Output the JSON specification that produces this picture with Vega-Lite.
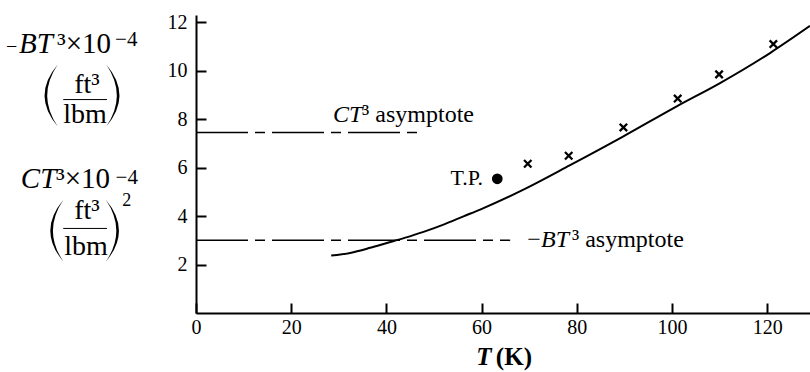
{
  "$schema": "https://vega.github.io/schema/vega-lite/v6.json",
  "width": 614,
  "height": 298,
  "autosize": {"type": "none"},
  "padding": {"left": 196, "top": 15, "right": 0, "bottom": 59},
  "background": "white",
  "config": {
    "view": {"stroke": null},
    "axis": {
      "grid": false,
      "domainColor": "black",
      "domainWidth": 2,
      "tickColor": "black",
      "tickWidth": 2,
      "tickSize": -10,
      "labelFont": "Liberation Serif",
      "labelFontSize": 20,
      "labelColor": "black",
      "title": null
    }
  },
  "datasets": {
    "curve": [
      {"T": 28.4, "v": 2.37}, {"T": 32.4, "v": 2.48}, {"T": 36.6, "v": 2.69},
      {"T": 40.1, "v": 2.89}, {"T": 43.8, "v": 3.10}, {"T": 47.8, "v": 3.35},
      {"T": 52.0, "v": 3.65}, {"T": 56.2, "v": 3.99}, {"T": 59.7, "v": 4.27},
      {"T": 68.8, "v": 5.09}, {"T": 78.6, "v": 6.10}, {"T": 89.8, "v": 7.29},
      {"T": 101.0, "v": 8.53}, {"T": 110.1, "v": 9.49}, {"T": 120.6, "v": 10.73},
      {"T": 129.0, "v": 11.85}
    ],
    "crosses": [
      {"T": 69.7, "v": 6.16}, {"T": 78.3, "v": 6.49}, {"T": 89.8, "v": 7.66},
      {"T": 101.2, "v": 8.85}, {"T": 109.9, "v": 9.85}, {"T": 121.3, "v": 11.10}
    ],
    "tp": [{"T": 63.3, "v": 5.54}],
    "asym": [
      {"name": "CT3", "T0": 0, "T1": 47, "v": 7.45},
      {"name": "-BT3", "T0": 0, "T1": 66, "v": 3.0}
    ],
    "italicText": [
      {"text": "CT", "T": 28.8, "v": 7.90},
      {"text": "BT", "T": 72.5, "v": 2.74}
    ],
    "romanText": [
      {"text": "³ asymptote", "T": 34.9, "v": 7.90},
      {"text": "−", "T": 69.6, "v": 2.74},
      {"text": "³ asymptote", "T": 79.0, "v": 2.74}
    ],
    "axisTitleItalic": [{"text": "T", "T": 58.9, "v": -2.13}],
    "axisTitleRoman": [{"text": "(K)", "T": 63.0, "v": -2.13}],
    "tpText": [{"text": "T.P.", "T": 60.3, "v": 5.30}],
    "titleItalic": [
      {"text": "BT", "T": -37.2, "v": 10.75},
      {"text": "CT", "T": -36.8, "v": 5.18}
    ],
    "titleMinus": [{"text": "−", "T": -39.9, "v": 10.75}],
    "titleRoman": [
      {"text": "³×10", "T": -29.2, "v": 10.75},
      {"text": "³×10", "T": -29.4, "v": 5.18}
    ],
    "titleSup": [
      {"text": "−4", "T": -17.0, "v": 11.04},
      {"text": "−4", "T": -16.9, "v": 5.34}
    ],
    "titleSquare": [{"text": "2", "T": -15.5, "v": 4.40}],
    "fracText": [
      {"text": "ft³", "T": -22.9, "v": 9.10},
      {"text": "lbm", "T": -23.3, "v": 7.86},
      {"text": "ft³", "T": -22.9, "v": 3.86},
      {"text": "lbm", "T": -23.1, "v": 2.41}
    ],
    "fracBars": [
      {"T0": -27.9, "T1": -18.7, "v": 8.81},
      {"T0": -27.9, "T1": -18.7, "v": 3.49}
    ],
    "leftParens": [
      {"T": -31.0, "v": 8.98},
      {"T": -29.8, "v": 3.40}
    ],
    "rightParens": [
      {"T": -16.9, "v": 8.98},
      {"T": -17.0, "v": 3.40}
    ]
  },
  "layer": [
    {
      "data": {"name": "curve"},
      "mark": {"type": "line", "color": "black", "strokeWidth": 2, "interpolate": "monotone", "clip": false},
      "encoding": {
        "x": {
          "field": "T", "type": "quantitative",
          "scale": {"domain": [0, 129], "nice": false, "zero": false},
          "axis": {
            "values": [0, 20, 40, 60, 80, 100, 120],
            "labelPadding": 14,
            "labelFlush": false,
            "encode": {"labels": {"update": {"dx": {"signal": "datum.value === 0 ? -13 : 0"}}}}
          }
        },
        "y": {
          "field": "v", "type": "quantitative",
          "scale": {"domain": [0, 12.3], "nice": false, "zero": false},
          "axis": {"values": [2, 4, 6, 8, 10, 12], "labelPadding": 19}
        }
      }
    },
    {
      "data": {"name": "asym"},
      "mark": {"type": "rule", "color": "black", "strokeWidth": 1.5, "strokeDash": [52, 7, 10, 7]},
      "encoding": {
        "x": {"field": "T0", "type": "quantitative"},
        "x2": {"field": "T1"},
        "y": {"field": "v", "type": "quantitative"}
      }
    },
    {
      "data": {"name": "crosses"},
      "mark": {"type": "point", "shape": "M-1,-1L1,1M-1,1L1,-1", "filled": false, "stroke": "black", "strokeWidth": 2.3, "size": 55, "opacity": 1},
      "encoding": {
        "x": {"field": "T", "type": "quantitative"},
        "y": {"field": "v", "type": "quantitative"}
      }
    },
    {
      "data": {"name": "tp"},
      "mark": {"type": "point", "shape": "circle", "filled": true, "color": "black", "size": 115, "opacity": 1},
      "encoding": {
        "x": {"field": "T", "type": "quantitative"},
        "y": {"field": "v", "type": "quantitative"}
      }
    },
    {
      "data": {"name": "italicText"},
      "mark": {"type": "text", "font": "Liberation Serif", "fontStyle": "italic", "fontSize": 24, "align": "left", "baseline": "alphabetic", "color": "black"},
      "encoding": {
        "x": {"field": "T", "type": "quantitative"},
        "y": {"field": "v", "type": "quantitative"},
        "text": {"field": "text"}
      }
    },
    {
      "data": {"name": "romanText"},
      "mark": {"type": "text", "font": "Liberation Serif", "fontSize": 24, "align": "left", "baseline": "alphabetic", "color": "black"},
      "encoding": {
        "x": {"field": "T", "type": "quantitative"},
        "y": {"field": "v", "type": "quantitative"},
        "text": {"field": "text"}
      }
    },
    {
      "data": {"name": "axisTitleItalic"},
      "mark": {"type": "text", "font": "Liberation Serif", "fontStyle": "italic", "fontWeight": "bold", "fontSize": 25, "align": "left", "baseline": "alphabetic", "color": "black"},
      "encoding": {
        "x": {"field": "T", "type": "quantitative"},
        "y": {"field": "v", "type": "quantitative"},
        "text": {"field": "text"}
      }
    },
    {
      "data": {"name": "axisTitleRoman"},
      "mark": {"type": "text", "font": "Liberation Serif", "fontWeight": "bold", "fontSize": 25, "align": "left", "baseline": "alphabetic", "color": "black"},
      "encoding": {
        "x": {"field": "T", "type": "quantitative"},
        "y": {"field": "v", "type": "quantitative"},
        "text": {"field": "text"}
      }
    },
    {
      "data": {"name": "tpText"},
      "mark": {"type": "text", "font": "Liberation Serif", "fontSize": 22, "align": "right", "baseline": "alphabetic", "color": "black"},
      "encoding": {
        "x": {"field": "T", "type": "quantitative"},
        "y": {"field": "v", "type": "quantitative"},
        "text": {"field": "text"}
      }
    },
    {
      "data": {"name": "titleItalic"},
      "mark": {"type": "text", "font": "Liberation Serif", "fontStyle": "italic", "fontSize": 29, "align": "left", "baseline": "alphabetic", "color": "black"},
      "encoding": {
        "x": {"field": "T", "type": "quantitative"},
        "y": {"field": "v", "type": "quantitative"},
        "text": {"field": "text"}
      }
    },
    {
      "data": {"name": "titleMinus"},
      "mark": {"type": "text", "font": "Liberation Serif", "fontSize": 20, "align": "left", "baseline": "alphabetic", "color": "black"},
      "encoding": {
        "x": {"field": "T", "type": "quantitative"},
        "y": {"field": "v", "type": "quantitative"},
        "text": {"field": "text"}
      }
    },
    {
      "data": {"name": "titleRoman"},
      "mark": {"type": "text", "font": "Liberation Serif", "fontSize": 29, "align": "left", "baseline": "alphabetic", "color": "black"},
      "encoding": {
        "x": {"field": "T", "type": "quantitative"},
        "y": {"field": "v", "type": "quantitative"},
        "text": {"field": "text"}
      }
    },
    {
      "data": {"name": "titleSup"},
      "mark": {"type": "text", "font": "Liberation Serif", "fontSize": 21, "align": "left", "baseline": "alphabetic", "color": "black"},
      "encoding": {
        "x": {"field": "T", "type": "quantitative"},
        "y": {"field": "v", "type": "quantitative"},
        "text": {"field": "text"}
      }
    },
    {
      "data": {"name": "titleSquare"},
      "mark": {"type": "text", "font": "Liberation Serif", "fontSize": 18, "align": "left", "baseline": "alphabetic", "color": "black"},
      "encoding": {
        "x": {"field": "T", "type": "quantitative"},
        "y": {"field": "v", "type": "quantitative"},
        "text": {"field": "text"}
      }
    },
    {
      "data": {"name": "fracText"},
      "mark": {"type": "text", "font": "Liberation Serif", "fontSize": 28, "align": "center", "baseline": "alphabetic", "color": "black"},
      "encoding": {
        "x": {"field": "T", "type": "quantitative"},
        "y": {"field": "v", "type": "quantitative"},
        "text": {"field": "text"}
      }
    },
    {
      "data": {"name": "fracBars"},
      "mark": {"type": "rule", "color": "black", "strokeWidth": 1},
      "encoding": {
        "x": {"field": "T0", "type": "quantitative"},
        "x2": {"field": "T1"},
        "y": {"field": "v", "type": "quantitative"}
      }
    },
    {
      "data": {"name": "leftParens"},
      "mark": {"type": "point", "shape": "M0.3,-1Q-0.55,0 0.3,1Q-0.38,0 0.3,-1Z", "filled": true, "color": "black", "size": 3844, "opacity": 1},
      "encoding": {
        "x": {"field": "T", "type": "quantitative"},
        "y": {"field": "v", "type": "quantitative"}
      }
    },
    {
      "data": {"name": "rightParens"},
      "mark": {"type": "point", "shape": "M-0.3,-1Q0.55,0 -0.3,1Q0.38,0 -0.3,-1Z", "filled": true, "color": "black", "size": 3844, "opacity": 1},
      "encoding": {
        "x": {"field": "T", "type": "quantitative"},
        "y": {"field": "v", "type": "quantitative"}
      }
    }
  ]
}
